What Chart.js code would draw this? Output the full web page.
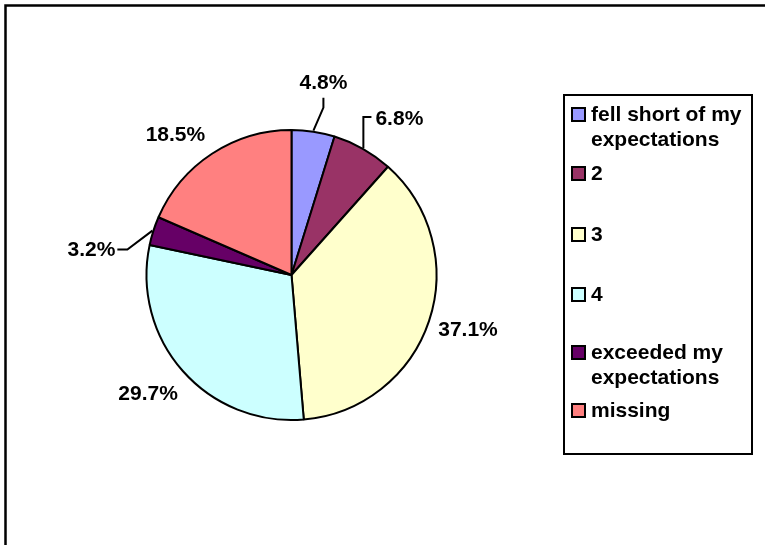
<!DOCTYPE html>
<html>
<head>
<meta charset="utf-8">
<script src="https://cdn.jsdelivr.net/npm/chart.js@4.4.1/dist/chart.umd.min.js"></script>
<style>
  html, body { margin: 0; padding: 0; background: #ffffff; }
  #wrap { width: 765px; height: 545px; position: relative; }
</style>
</head>
<body>
<div id="wrap"><canvas id="pie" width="765" height="545"></canvas></div>
<script>
// Survey answers and their share of respondents (%)
const categories = ['fell short of my expectations', '2', '3', '4', 'exceeded my expectations', 'missing'];
const shares = [4.8, 6.8, 37.1, 29.7, 3.2, 18.5];
const sliceColors = ['#9999FF', '#993366', '#FFFFCC', '#CCFFFF', '#660066', '#FF8080'];

const FONT = 'bold 21px "Liberation Sans", Arial, sans-serif';

// Percentage labels placed off each slice's outer edge (offset from the rim point at mid-angle),
// some with an elbow leader line back to the rim.
const labelPlacement = [
  { dx: 10,  dy: -48, leader: 'up' },
  { dx: 36,  dy: -30, leader: 'side-right' },
  { dx: 38,  dy: 8 },
  { dx: -34, dy: 22 },
  { dx: -61, dy: 19, leader: 'side-left' },
  { dx: -36, dy: -19 }
];

const pieLabels = {
  id: 'pieLabels',
  afterDatasetsDraw(chart) {
    const ctx = chart.ctx;
    const meta = chart.getDatasetMeta(0);
    ctx.save();
    ctx.font = FONT;
    ctx.fillStyle = '#000';
    ctx.strokeStyle = '#000';
    ctx.lineWidth = 2;
    ctx.textAlign = 'center';
    ctx.textBaseline = 'middle';
    meta.data.forEach((arc, i) => {
      const { x, y, startAngle, endAngle, outerRadius } = arc.getProps(['x', 'y', 'startAngle', 'endAngle', 'outerRadius'], true);
      const mid = (startAngle + endAngle) / 2;
      const rx = x + Math.cos(mid) * (outerRadius + 1);
      const ry = y + Math.sin(mid) * (outerRadius + 1);
      const p = labelPlacement[i];
      const lx = rx + p.dx, ly = ry + p.dy;
      const text = shares[i].toFixed(1) + '%';
      const w = ctx.measureText(text).width;
      ctx.beginPath();
      if (p.leader === 'up') {
        ctx.moveTo(rx, ry);
        ctx.lineTo(lx, ly + 25);
        ctx.lineTo(lx, ly + 15);
      } else if (p.leader === 'side-right') {
        ctx.moveTo(rx, ry);
        ctx.lineTo(rx, ly - 1);
        ctx.lineTo(lx - w / 2 - 4, ly - 1);
      } else if (p.leader === 'side-left') {
        ctx.moveTo(rx, ry);
        ctx.lineTo(lx + w / 2 + 12, ly);
        ctx.lineTo(lx + w / 2 + 2, ly);
      }
      if (p.leader) ctx.stroke();
      ctx.fillText(text, lx, ly + 1);
    });
    ctx.restore();
  }
};

// Boxed legend on the right and the frame round the whole chart
const frameAndLegend = {
  id: 'frameAndLegend',
  afterDraw(chart) {
    const ctx = chart.ctx;
    ctx.save();
    ctx.strokeStyle = '#000';
    ctx.lineWidth = 2.5;
    ctx.strokeRect(5.5, 5.5, 1000, 1000);

    ctx.lineWidth = 2;
    ctx.strokeRect(564, 95, 188, 359);

    const entryTops = [107, 166, 227, 287, 345, 403];
    ctx.font = FONT;
    ctx.textAlign = 'left';
    ctx.textBaseline = 'middle';
    categories.forEach((name, i) => {
      const top = entryTops[i];
      ctx.fillStyle = sliceColors[i];
      ctx.fillRect(572, top + 1, 13, 13);
      ctx.strokeStyle = '#000';
      ctx.lineWidth = 2;
      ctx.strokeRect(572, top + 1, 13, 13);
      // wrap words to the legend width
      const words = name.split(' ');
      const lines = [];
      let cur = '';
      words.forEach(wd => {
        const t = cur ? cur + ' ' + wd : wd;
        if (ctx.measureText(t).width > 156 && cur) { lines.push(cur); cur = wd; }
        else cur = t;
      });
      lines.push(cur);
      ctx.fillStyle = '#000';
      lines.forEach((ln, k) => ctx.fillText(ln, 591, top + 8 + k * 25));
    });
    ctx.restore();
  }
};

new Chart(document.getElementById('pie'), {
  type: 'pie',
  data: {
    labels: categories,
    datasets: [{
      data: shares,
      backgroundColor: sliceColors,
      borderColor: '#000000',
      borderWidth: 2
    }]
  },
  options: {
    responsive: false,
    animation: false,
    radius: 145,
    layout: { padding: { left: 0, right: 182, top: 5, bottom: 0 } },
    plugins: {
      legend: { display: false },
      tooltip: { enabled: false }
    }
  },
  plugins: [pieLabels, frameAndLegend]
});
</script>
</body>
</html>
